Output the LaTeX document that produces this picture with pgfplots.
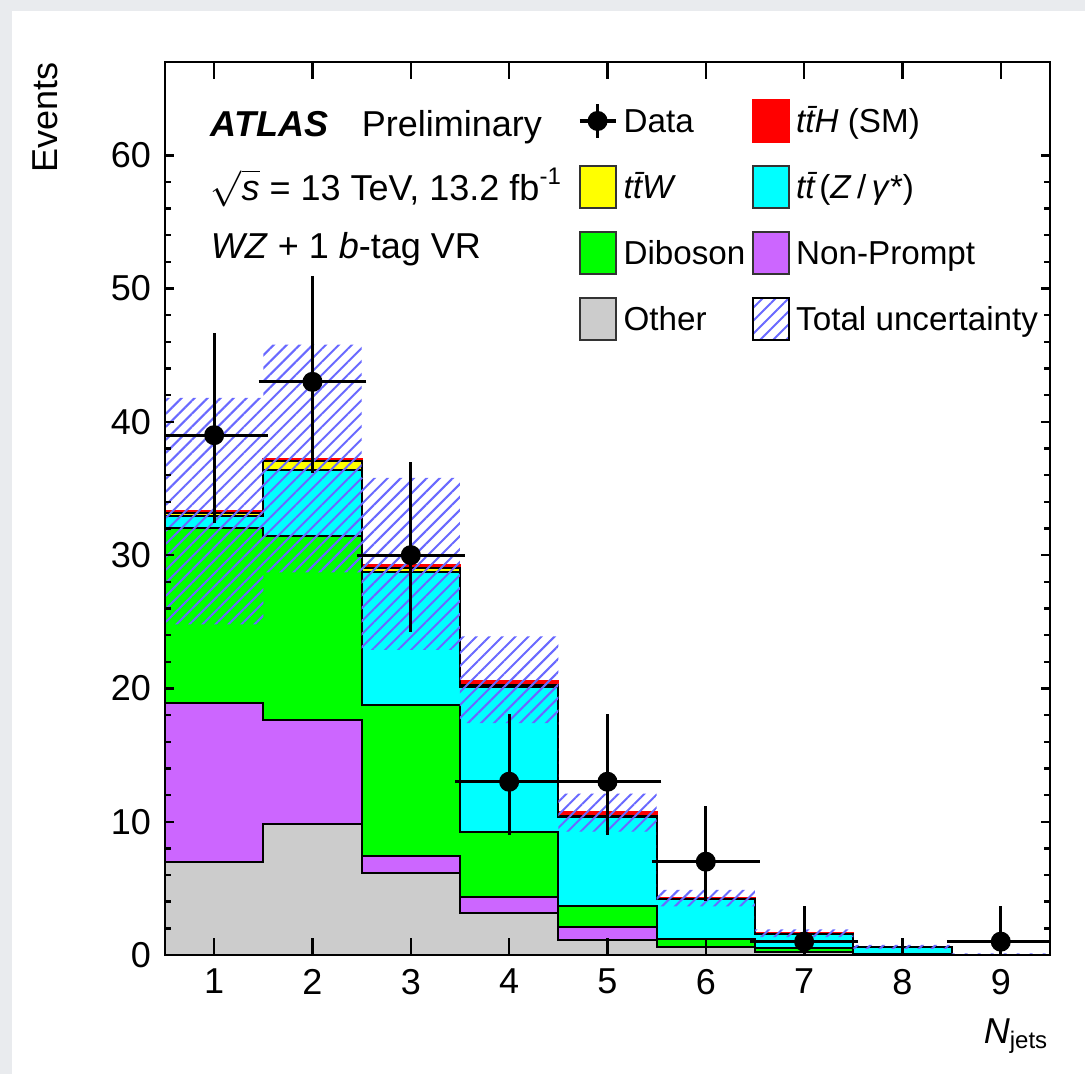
\documentclass[border=0pt]{standalone}
\usepackage{fontspec}
\setmainfont{Liberation Sans}
\usepackage{pgfplots}
\pgfplotsset{compat=1.18}
\usepackage{pgfplotstable}
\usetikzlibrary{patterns.meta}

\definecolor{cOther}{RGB}{204,204,204}
\definecolor{cNP}{RGB}{204,102,255}
\definecolor{cDib}{RGB}{0,255,0}
\definecolor{cTTZ}{RGB}{0,255,255}
\definecolor{cTTW}{RGB}{255,255,0}
\definecolor{cTTH}{RGB}{255,0,0}
\definecolor{cHatch}{RGB}{105,105,255}
\definecolor{bgGray}{RGB}{233,235,238}

\newcommand{\fs}{\fontsize{9}{10.8}\selectfont}
\newcommand{\fl}{\fontsize{8.3}{10}\selectfont}
\tikzset{hatch/.style={pattern={Lines[angle=45, distance=2.3pt, line width=0.5pt]}, pattern color=cHatch}}

% cumulative stack levels, bin lower edges (last row closes the range)
\pgfplotstableread{
x   tth   ttw   ttz   dib   np    oth
0.5 33.3  33.15 32.9  32.0  18.9  7.0
1.5 37.25 37.05 36.4  31.4  17.6  9.8
2.5 29.25 29.0  28.7  18.77 7.43  6.15
3.5 20.57 20.27 20.1  9.26  4.33  3.18
4.5 10.7  10.45 10.38 3.68  2.13  1.13
5.5 4.3   4.22  4.18  1.23  0.62  0.62
6.5 1.63  1.6   1.55  0.52  0.25  0.25
7.5 0.62  0.61  0.6   0.1   0.0   0.0
8.5 0.0   0.0   0.0   0.0   0.0   0.0
9.5 0.0   0.0   0.0   0.0   0.0   0.0
}\stack

\pgfplotstableread{
x y  ex  eyp eym
1 39 0.5 7.3 6.2
2 43 0.5 7.6 6.5
3 30 0.5 6.6 5.4
4 13 0.5 4.7 3.6
5 13 0.5 4.7 3.6
6 7  0.5 3.8 2.6
7 1  0.5 2.3 0.83
9 1  0.5 2.3 0.83
}\data

\begin{document}
\begin{tikzpicture}[x=0.25pt,y=0.25pt]
\fill[bgGray] (0,0) rectangle (1085,1074);
\fill[white] (12,0) rectangle (1085,1063);

\begin{axis}[
    at={(41.25pt,29.75pt)}, anchor=south west,
    scale only axis, width=221.25pt, height=223.25pt,
    xmin=0.5, xmax=9.5, ymin=0, ymax=67,
    xtick={1,...,9}, ytick={0,10,...,60}, minor y tick num=4,
    tick pos=both, tick align=inside,
    axis on top,
    axis line style={line width=0.6pt},
    every tick/.style={black, line width=0.6pt},
    major tick length=2.25pt, minor tick length=1.5pt,
    xtick style={/pgfplots/major tick length=4.25pt},
    tick label style={font=\fs},
    /pgf/number format/assume math mode=true,
    legend columns=2,
    legend cell align=left,
    legend style={at={(0.4667,0.9586)}, anchor=north west, draw=none, fill=none,
        inner sep=0pt, outer sep=0pt, font=\fl, row sep=5.5pt, column sep=1.6pt,
        nodes={inner sep=0pt, text height=5.9pt, text depth=0pt}},
]

% legend entries
\addlegendimage{legend image code/.code={
    \draw[black, line width=0.8pt] (0pt,0pt) -- (9pt,0pt);
    \draw[black, line width=0.8pt] (4.5pt,-4.25pt) -- (4.5pt,4.25pt);
    \fill[black] (4.5pt,0pt) circle (2.3pt);}}
\addlegendentry{Data}
\addlegendimage{legend image code/.code={
    \draw[fill=cTTH, draw=cTTH, line width=0.5pt] (0pt,-5.25pt) rectangle (9pt,5.25pt);}}
\addlegendentry{\textit{t\={t}H} (SM)}
\addlegendimage{legend image code/.code={
    \draw[fill=cTTW, draw=black!80, line width=0.5pt] (0pt,-5.25pt) rectangle (9pt,5.25pt);}}
\addlegendentry{\textit{t\={t}W}}
\addlegendimage{legend image code/.code={
    \draw[fill=cTTZ, draw=black!80, line width=0.5pt] (0pt,-5.25pt) rectangle (9pt,5.25pt);}}
\addlegendentry{\textit{t\={t}}(\textit{Z}\,/\,\textit{γ}*)}
\addlegendimage{legend image code/.code={
    \draw[fill=cDib, draw=black!80, line width=0.5pt] (0pt,-5.25pt) rectangle (9pt,5.25pt);}}
\addlegendentry{Diboson}
\addlegendimage{legend image code/.code={
    \draw[fill=cNP, draw=black!80, line width=0.5pt] (0pt,-5.25pt) rectangle (9pt,5.25pt);}}
\addlegendentry{Non-Prompt}
\addlegendimage{legend image code/.code={
    \draw[fill=cOther, draw=black!80, line width=0.5pt] (0pt,-5.25pt) rectangle (9pt,5.25pt);}}
\addlegendentry{Other}
\addlegendimage{legend image code/.code={
    \path[hatch] (0pt,-5.25pt) rectangle (9pt,5.25pt);}}
\addlegendentry{Total uncertainty}

% stacked histograms, largest sum first
\addplot[forget plot, const plot, fill=cTTH, draw=cTTH, line width=0.5pt] table[x=x, y=tth]{\stack} \closedcycle;
\addplot[forget plot, const plot, fill=cTTW, draw=black, line width=0.5pt] table[x=x, y=ttw]{\stack} \closedcycle;
\addplot[forget plot, const plot, fill=cTTZ, draw=black, line width=0.5pt] table[x=x, y=ttz]{\stack} \closedcycle;
\addplot[forget plot, const plot, fill=cDib, draw=black, line width=0.5pt] table[x=x, y=dib]{\stack} \closedcycle;
\addplot[forget plot, const plot, fill=cNP, draw=black, line width=0.5pt] table[x=x, y=np]{\stack} \closedcycle;
\addplot[forget plot, const plot, fill=cOther, draw=black, line width=0.5pt] table[x=x, y=oth]{\stack} \closedcycle;

% total uncertainty band: upper edge left to right, lower edge back
\addplot[forget plot, draw=none, hatch] coordinates {
    (0.5,41.8) (1.5,41.8) (1.5,45.8) (2.5,45.8) (2.5,35.8) (3.5,35.8)
    (3.5,23.9) (4.5,23.9) (4.5,12.1) (5.5,12.1) (5.5,4.88) (6.5,4.88)
    (6.5,1.93) (7.5,1.93) (7.5,0.75) (8.5,0.75) (8.5,0.12) (9.5,0.12)
    (9.5,0.0) (8.5,0.0) (8.5,0.45) (7.5,0.45) (7.5,1.35) (6.5,1.35)
    (6.5,3.65) (5.5,3.65) (5.5,9.26) (4.5,9.26) (4.5,17.4) (3.5,17.4)
    (3.5,22.9) (2.5,22.9) (2.5,28.7) (1.5,28.7) (1.5,24.8) (0.5,24.8)
} -- cycle;

% data
\addplot[forget plot, only marks, mark=*, mark size=2.3pt, black,
    error bars/.cd, x dir=both, x explicit, y dir=both, y explicit,
    error bar style={line width=0.8pt, black},
    error mark options={black, mark size=1.2pt, line width=0.8pt}]
    table[x=x, y=y, x error=ex, y error plus=eyp, y error minus=eym]{\data};
\end{axis}

\node[anchor=base west, inner sep=0pt, font=\fs] at (210,937) {\textbf{\textit{ATLAS}}};
\node[anchor=base west, inner sep=0pt, font=\fs] at (361,937) {Preliminary};
\node[anchor=base west, inner sep=0pt, font=\fs] at (210,874) {$\sqrt{\textit{s}}$ = 13 TeV, 13.2 fb\textsuperscript{-1}};
\node[anchor=base west, inner sep=0pt, font=\fs] at (210,816) {\textit{WZ} + 1 \textit{b}-tag VR};
\node[rotate=90, anchor=base east, inner sep=0pt, font=\fs] at (58,1012) {Events};
\node[anchor=base east, inner sep=0pt, font=\fs] at (1050,30) {\textit{N}\textsubscript{jets}};
\end{tikzpicture}
\end{document}
